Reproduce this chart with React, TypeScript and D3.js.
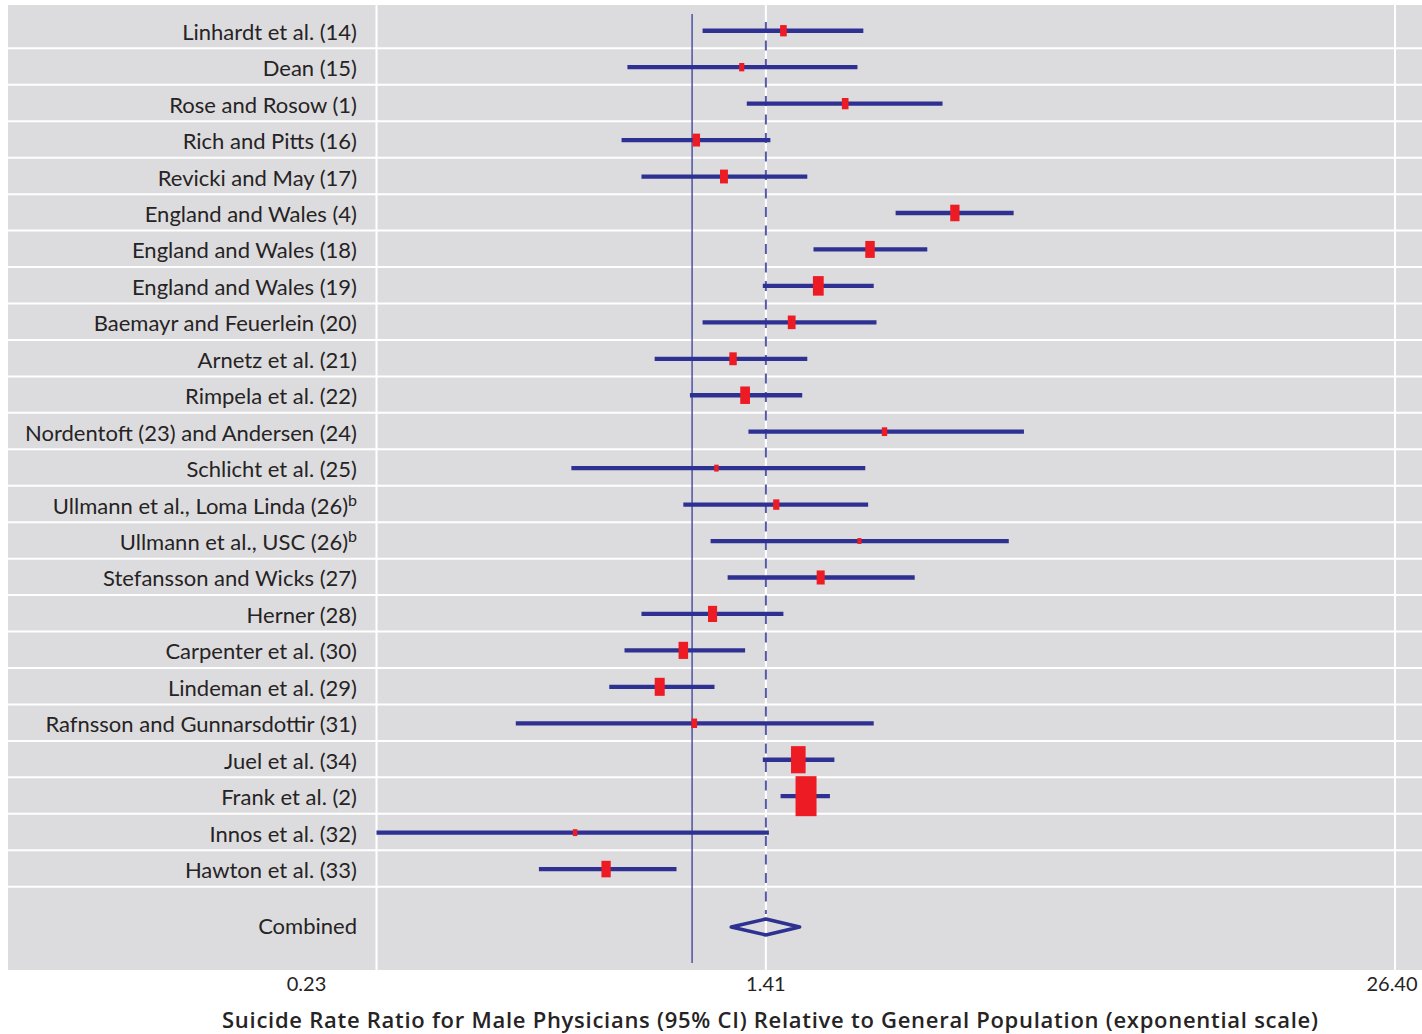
import React from 'react'
import * as d3 from 'd3'

const width = 1422
const height = 1034

// studies, top to bottom
const studies = [
  'Linhardt et al. (14)',
  'Dean (15)',
  'Rose and Rosow (1)',
  'Rich and Pitts (16)',
  'Revicki and May (17)',
  'England and Wales (4)',
  'England and Wales (18)',
  'England and Wales (19)',
  'Baemayr and Feuerlein (20)',
  'Arnetz et al. (21)',
  'Rimpela et al. (22)',
  'Nordentoft (23) and Andersen (24)',
  'Schlicht et al. (25)',
  'Ullmann et al., Loma Linda (26)',
  'Ullmann et al., USC (26)',
  'Stefansson and Wicks (27)',
  'Herner (28)',
  'Carpenter et al. (30)',
  'Lindeman et al. (29)',
  'Rafnsson and Gunnarsdottir (31)',
  'Juel et al. (34)',
  'Frank et al. (2)',
  'Innos et al. (32)',
  'Hawton et al. (33)',
]
const footnotes = ['', '', '', '', '', '', '', '', '', '', '', '', '', 'b', 'b', '', '', '', '', '', '', '', '', '']

// rate ratio and 95% CI
const estimates = [1.53, 1.26, 2.04, 1.02, 1.16, 3.40, 2.29, 1.80, 1.59, 1.21, 1.28, 2.45, 1.12, 1.48, 2.18, 1.82, 1.10, 0.96, 0.86, 1.01, 1.64, 1.70, 0.58, 0.67]
const lowers = [1.05, 0.74, 1.29, 0.72, 0.79, 2.58, 1.76, 1.39, 1.05, 0.84, 0.99, 1.30, 0.57, 0.96, 1.09, 1.18, 0.79, 0.73, 0.68, 0.44, 1.39, 1.51, 0.23, 0.49]
const uppers = [2.22, 2.16, 3.21, 1.44, 1.71, 4.47, 2.99, 2.33, 2.36, 1.71, 1.67, 4.69, 2.24, 2.27, 4.37, 2.82, 1.53, 1.28, 1.11, 2.33, 1.94, 1.90, 1.43, 0.93]
// relative study weights (%)
const weights = [2.0, 1.1, 2.0, 2.6, 3.0, 4.3, 4.5, 6.0, 2.9, 2.6, 4.8, 1.2, 0.75, 1.7, 0.56, 3.1, 4.1, 4.6, 5.1, 1.4, 11.6, 25.1, 0.75, 4.3]

const combinedLabel = 'Combined'
const combinedEstimate = 1.41
const combinedLower = 1.20
const combinedUpper = 1.65

const tickValues = [0.23, 1.41, 26.4]
const tickLabels = ['0.23', '1.41', '26.40']
const axisTitle = 'Suicide Rate Ratio for Male Physicians (95% CI) Relative to General Population (exponential scale)'

const gray = '#dcdcde'
const navy = '#2e3192'
const red = '#ed1c24'
const ink = '#262324'
const font = 'Lato, "Open Sans", sans-serif'

export default function App() {
  const left = 8
  const top = 5
  const bottom = 970
  const labelRight = 357

  const x = d3.scaleLog().domain([0.23, 26.4]).range([376.5, 1395])
  const y = d3.scaleBand().domain(studies).range([11.9, 886.7])
  const bw = y.bandwidth()
  const boxH = d3.scaleSqrt().domain([0, d3.max(weights) as number]).range([0, 40])

  const combTop = y.range()[1]
  const combY = 927

  const diamond = [
    [x(combinedLower), combY],
    [x(combinedEstimate), combY - 8],
    [x(combinedUpper), combY],
    [x(combinedEstimate), combY + 8],
  ] as [number, number][]

  return (
    <svg width={width} height={height} style={{position: 'absolute', left: 0, top: 0}} fontFamily={font}>
      <rect x={0} y={0} width={width} height={height} fill="#fff" />
      <rect x={left} y={top} width={width - left} height={bottom - top} fill={gray} />

      {/* row separators */}
      {studies.map((s, i) => i === 0 ? null : (
        <line key={'sep' + i} x1={left} x2={width} y1={y(s)} y2={y(s)} stroke="#fff" strokeWidth={2} />
      ))}
      <line x1={left} x2={width} y1={combTop} y2={combTop} stroke="#fff" strokeWidth={2} />

      {/* vertical gridlines */}
      {tickValues.map(t => (
        <line key={'g' + t} x1={x(t)} x2={x(t)} y1={top} y2={bottom} stroke="#fff" strokeWidth={2} />
      ))}

      {/* null line and combined estimate */}
      <line x1={x(1)} x2={x(1)} y1={14} y2={963} stroke="#4f52a6" strokeWidth={1.5} />
      <line x1={x(combinedEstimate)} x2={x(combinedEstimate)} y1={22} y2={914}
        stroke="#5558a8" strokeWidth={2} strokeDasharray="10 8.5" />

      {/* study rows */}
      {studies.map((s, i) => {
        const cy = y(s)! + bw / 2 + 0.6
        const h = boxH(weights[i])
        const w = h / 2 + 1
        return (
          <g key={s}>
            <text x={labelRight} y={cy + 9} textAnchor="end" fontSize={22} fill={ink}>
              {s}
              {footnotes[i] && <tspan fontSize={16} dy={-8}>{footnotes[i]}</tspan>}
            </text>
            <line x1={x(lowers[i])} x2={x(uppers[i])} y1={cy} y2={cy} stroke={navy} strokeWidth={4.3} />
            <rect x={x(estimates[i]) - w / 2} y={cy - h / 2} width={w} height={h} fill={red} />
          </g>
        )
      })}

      {/* combined */}
      <text x={labelRight} y={combY + 7} textAnchor="end" fontSize={22} fill={ink}>{combinedLabel}</text>
      <polygon points={diamond.map(p => p.join(',')).join(' ')} fill="none" stroke={navy} strokeWidth={3.5} strokeLinejoin="round" />

      {/* axis */}
      {tickValues.map((t, i) => (
        <text key={'t' + t} x={x(t) + (i === 0 ? -70 : i === 2 ? -3 : 0)} y={991} textAnchor="middle" fontSize={20} fill={ink}>
          {tickLabels[i]}
        </text>
      ))}
      <text x={770} y={1028} textAnchor="middle" fontSize={22} fontWeight={600} fill={ink}
        fontFamily='"Open Sans", Lato, sans-serif' textLength={1096} lengthAdjust="spacing">{axisTitle}</text>
    </svg>
  )
}
